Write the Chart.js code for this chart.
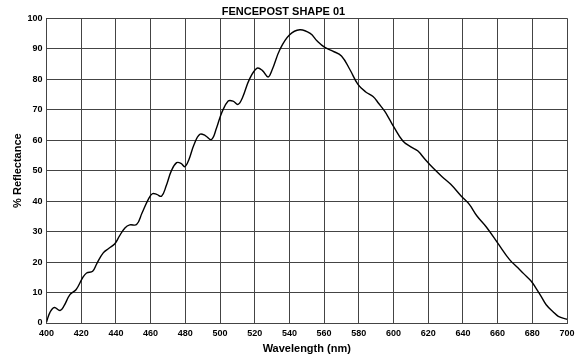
<!DOCTYPE html>
<html>
<head>
<meta charset="utf-8">
<script src="https://cdn.jsdelivr.net/npm/chart.js@4/dist/chart.umd.min.js"></script>
<style>
  html, body { margin: 0; padding: 0; background: #fff; }
  #wrap { width: 581px; height: 361px; }
</style>
</head>
<body>
<div id="wrap"><canvas id="chart"></canvas></div>
<script>
// spectrum, wavelength in nm / reflectance in %
const wavelengths = [400, 402, 404.5, 407.8, 410, 413.5, 417, 420.8, 423.1, 426.6, 429, 432.7, 436, 439.4, 442, 445.2, 448, 451.9, 455, 458.6,
  461, 463.5, 466.3, 469, 472, 475, 477.5, 479.7, 482, 485, 488.4, 491.5, 495.1, 498, 501, 504.7, 507.5, 510.4, 513, 517,
  521.4, 524.5, 527.7, 530, 534.6, 540, 546, 552, 556, 560.4, 565, 570, 575, 579.5, 584, 588.2, 591.5, 594.9, 597.7, 600,
  605.4, 610, 614.1, 618, 622.7, 628, 633, 639.1, 643.7, 648, 653.5, 660, 666.9, 671.7, 675, 679.4, 682, 685.1, 688, 691.8, 695, 700]
const reflectance = [0.3, 3.5, 5.1, 4.1, 5.5, 9.3, 10.9, 14.8, 16.4, 17, 19.5, 23, 24.5, 26, 28.5, 31.2, 32.2, 32.3, 36, 40.5,
  42.4, 42.2, 41.6, 45, 50, 52.6, 52.4, 51.3, 53.5, 58.5, 61.9, 61.5, 60.2, 64, 69, 72.8, 72.8, 71.7, 74, 80,
  83.6, 82.8, 80.7, 83, 89.8, 94.5, 96.2, 95, 92.5, 90.4, 89.2, 87.6, 83, 78.3, 75.8, 74.3, 72, 69.5, 66.8, 64.5,
  59.7, 57.8, 56.4, 53.8, 50.9, 48, 45.5, 41.6, 38.9, 35.2, 31.5, 26.3, 20.8, 18.1, 16.2, 13.7, 11.5, 8.7, 6, 3.8, 2.2, 1.2]

const points = wavelengths.map((w, i) => ({ x: w, y: reflectance[i] }))
const FONT = 'Liberation Sans, Arial, Helvetica, sans-serif'

new Chart(document.getElementById('chart'), {
  type: 'line',
  data: {
    datasets: [{
      label: 'Fencepost shape 01',
      data: points,
      borderColor: '#000',
      borderWidth: 1.4,
      pointRadius: 0,
      tension: 0.4,
      fill: false
    }]
  },
  options: {
    responsive: true,
    maintainAspectRatio: false,
    animation: false,
    layout: { padding: { left: 0, right: 14, top: 0, bottom: 0 } },
    plugins: {
      legend: { display: false },
      tooltip: { enabled: false },
      title: {
        display: true,
        text: 'FENCEPOST SHAPE 01',
        color: '#000',
        font: { family: FONT, size: 11, weight: 'bold' },
        padding: { top: 5, bottom: 0 }
      }
    },
    scales: {
      x: {
        type: 'linear',
        min: 400,
        max: 700,
        afterFit: s => { s.height = 38 },
        grid: { color: '#444', lineWidth: 1, drawTicks: false },
        border: { color: '#444' },
        ticks: { stepSize: 20, padding: 5, color: '#000', font: { family: FONT, size: 9, weight: 'bold' }, maxRotation: 0 },
        title: { display: true, text: 'Wavelength (nm)', color: '#000', font: { family: FONT, size: 11, weight: 'bold' }, padding: { top: 0, bottom: 5 } }
      },
      y: {
        min: 0,
        max: 100,
        afterFit: s => { s.width = 46.5 },
        grid: { color: '#444', lineWidth: 1, drawTicks: false },
        border: { color: '#444' },
        ticks: { stepSize: 10, padding: 4, color: '#000', font: { family: FONT, size: 9, weight: 'bold' } },
        title: { display: true, text: '% Reflectance', color: '#000', font: { family: FONT, size: 11, weight: 'bold' }, padding: { top: 11, bottom: 0 } }
      }
    }
  }
})
</script>
</body>
</html>
